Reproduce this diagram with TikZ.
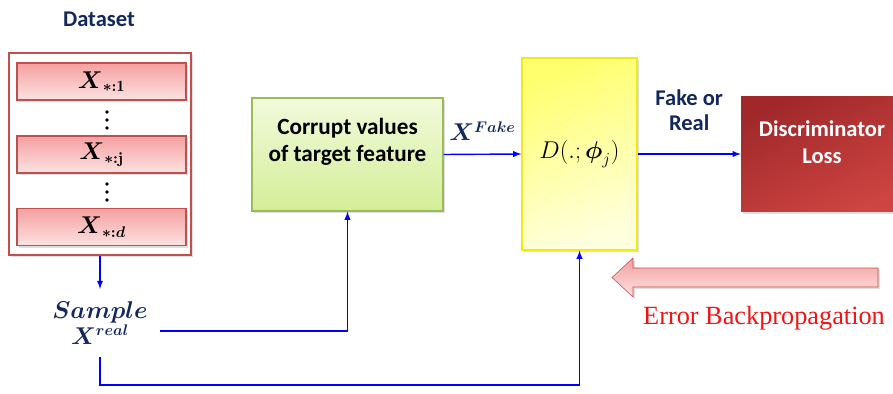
\documentclass[tikz,border=0pt]{standalone}
\usepackage{amsmath}
\usepackage{amssymb}
\usepackage{fontspec}
\setsansfont{Carlito}
\newfontfamily\errfont{Liberation Serif}
\usetikzlibrary{positioning, arrows, shadows}

\definecolor{navy}{RGB}{18,40,92}
\definecolor{boxred}{RGB}{192,80,77}
\definecolor{pinktop}{RGB}{244,160,160}
\definecolor{pinkbot}{RGB}{253,226,226}
\definecolor{greentop}{RGB}{242,250,220}
\definecolor{greenbot}{RGB}{212,238,152}
\definecolor{greenline}{RGB}{155,187,89}
\definecolor{yellowtop}{RGB}{255,255,110}
\definecolor{yellowbot}{RGB}{255,255,222}
\definecolor{yellowline}{RGB}{240,235,20}
\definecolor{losstop}{RGB}{160,40,42}
\definecolor{lossbot}{RGB}{205,68,66}
\definecolor{errred}{RGB}{240,20,20}

\begin{document}
\begin{tikzpicture}[
    flow/.style={draw=blue, line width=1pt, -latex},
    shadowed/.style={drop shadow={opacity=0.25, shadow xshift=1.5pt, shadow yshift=-1.5pt}},
    title/.style={text=navy, align=center, font=\sffamily\bfseries\fontsize{16}{18}\selectfont},
    dsbox/.style={draw=boxred, line width=1pt, fill=white, minimum width=4.55cm, minimum height=5.05cm},
    col/.style={draw=boxred, line width=0.8pt, top color=pinktop, bottom color=pinkbot, minimum width=4.225cm, minimum height=0.925cm, font=\fontsize{16}{18}\selectfont},
    corrupt/.style={draw=greenline, line width=0.9pt, top color=greentop, bottom color=greenbot, minimum width=4.775cm, minimum height=2.825cm},
    disc/.style={draw=yellowline, line width=0.9pt, top color=yellowtop, bottom color=yellowbot, shading angle=20, minimum width=2.875cm, minimum height=4.8cm, font=\fontsize{17}{19}\selectfont},
    loss/.style={top color=losstop, bottom color=lossbot, shading angle=25, minimum width=4.05cm, minimum height=2.875cm},
    sample/.style={text=navy, align=center, inner sep=0.3cm, font=\fontsize{16}{18}\selectfont},
  ]
    \useasboundingbox (0,0) rectangle (22.325,-9.85);

    % Dataset with its feature columns
    \node[title] (dstitle) at (2.475,-0.475) {Dataset};
    \node[dsbox, shadowed] (dataset) at (2.5,-3.85) {};
    \node[col, shadowed] (col1) at (2.5375,-2.0375) {$\boldsymbol{X}_{\boldsymbol{*:}\mathbf{1}}$};
    \node[col, shadowed] (colj) at (2.5375,-3.8625) {$\boldsymbol{X}_{\boldsymbol{*:}\mathbf{j}}$};
    \node[col, shadowed] (cold) at (2.5375,-5.675) {$\boldsymbol{X}_{\boldsymbol{*:d}}$};
    \foreach \y in {2.8, 3.0, 3.2, 4.6, 4.8, 5.0}
        \fill (2.675,-\y) circle (0.045);

    % Real sample
    \node[sample] (sample) at (2.5,-8.075) {$\boldsymbol{Sample}$\\[1pt]$\boldsymbol{X^{real}}$};
    \draw[flow] (dataset.south) -- (sample.north);

    % Corruption step
    \node[corrupt, shadowed, label={[yshift=0.31cm, align=center, font=\sffamily\bfseries\fontsize{16.5}{19}\selectfont]center:Corrupt values\\of target feature}] (corrupt) at (8.6875,-3.8625) {};

    % Discriminator and its loss
    \node[disc, shadowed] (disc) at (14.4875,-3.85) {$D(.;\boldsymbol{\phi}_j)$};
    \node[loss, shadowed, label={[yshift=0.3cm, align=center, text=white, font=\sffamily\bfseries\fontsize{16}{19}\selectfont]center:Discriminator\\Loss}] (loss) at (20.55,-3.85) {};

    % Connections
    \draw[flow] (corrupt.east) -- node[above=0.2cm, text=navy, font=\fontsize{16}{18}\selectfont] (xfake) {$\boldsymbol{X^{Fake}}$} (disc.west);
    \draw[flow] (disc.east) -- node[above=0.45cm, title] (verdict) {Fake or\\Real} (loss.west);
    \draw[flow] ([yshift=-0.2cm]sample.east) -| (corrupt.south);
    \draw[flow] (sample.south) -- ++(0,-0.7) -| (disc.south);

    % Backpropagation arrow
    \draw[draw=boxred, top color=pinktop, bottom color=pinkbot, shadowed]
        (15.3,-6.9375) -- (15.825,-6.45) -- (15.825,-6.7) -- (21.95,-6.7)
        -- (21.95,-7.175) -- (15.825,-7.175) -- (15.825,-7.425) -- cycle;
    \node[text=errred, font=\errfont\fontsize{18.7}{20}\selectfont] (errlabel) at (19.1,-7.95) {Error Backpropagation};

\end{tikzpicture}
\end{document}
